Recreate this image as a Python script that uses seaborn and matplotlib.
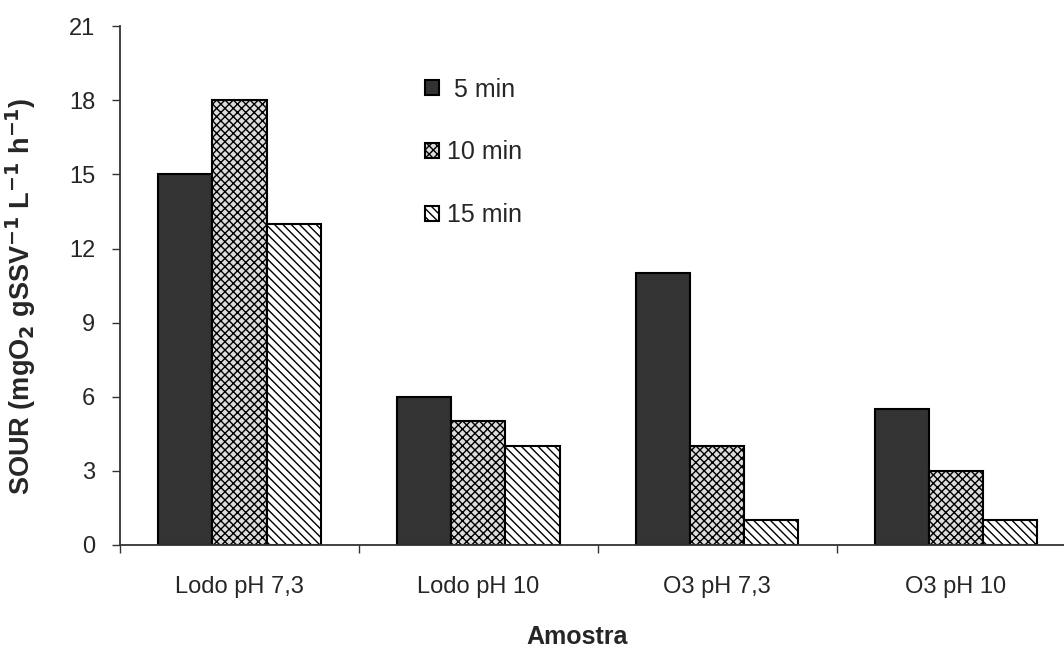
import numpy as np
import matplotlib
matplotlib.use('Agg')
import matplotlib.pyplot as plt
import seaborn as sns
import pandas as pd

# dados do gráfico
amostras = ['Lodo pH 7,3', 'Lodo pH 10', 'O3 pH 7,3', 'O3 pH 10']
tempos = [' 5 min', '10 min', '15 min']
sour_5 = [15, 6, 11, 5.5]
sour_10 = [18, 5, 4, 3]
sour_15 = [13, 4, 1, 1]

df = pd.DataFrame({
    'Amostra': amostras * 3,
    'Tempo': [tempos[0]] * 4 + [tempos[1]] * 4 + [tempos[2]] * 4,
    'SOUR': sour_5 + sour_10 + sour_15,
})

sns.set_style('white')
plt.rcParams['font.family'] = ['Liberation Sans', 'DejaVu Sans']
plt.rcParams['hatch.linewidth'] = 1.0
plt.rcParams['mathtext.default'] = 'bf'

fig = plt.figure(figsize=(10.64, 6.55), dpi=100)
ax = fig.add_axes([0.1128, 0.168, 0.898, 0.792])

sns.barplot(data=df, x='Amostra', y='SOUR', hue='Tempo', order=amostras,
            hue_order=tempos, width=0.68, ax=ax, legend=False)

faces = ['#333333', '#dcdcdc', 'white']
hatches = [None, 'xxxx', '\\\\\\\\']
for cont, fc, h in zip(ax.containers, faces, hatches):
    for p in cont:
        p.set_facecolor(fc)
        p.set_edgecolor('black')
        p.set_linewidth(1.5)
        if h:
            p.set_hatch(h)

ax.set_xlim(-0.5, 3.5)
ax.set_ylim(0, 21)
ax.set_yticks(np.arange(0, 22, 3))
ax.set_xticks(np.arange(-0.5, 3.6, 1), minor=True)
ax.tick_params(axis='x', which='major', length=0, labelsize=17, pad=22)
ax.tick_params(axis='x', which='minor', length=6, width=1, direction='out', color='#333333')
ax.tick_params(axis='y', length=6, width=1, direction='out', labelsize=17, color='#333333', pad=12)
ax.xaxis.set_tick_params(which='minor', bottom=True)
ax.yaxis.set_tick_params(left=True)

for s in ['top', 'right']:
    ax.spines[s].set_visible(False)
for s in ['left', 'bottom']:
    ax.spines[s].set_color('#333333')
    ax.spines[s].set_linewidth(1.3)

ax.set_xlabel('Amostra', fontsize=18, fontweight='bold')
ax.set_ylabel(r'SOUR (mgO$_2$ gSSV$^{-1}$ L$^{-1}$ h$^{-1}$)',
              fontsize=19.5, fontweight='bold')
ax.xaxis.set_label_coords(0.478, -0.155)
ax.yaxis.set_label_coords(-0.086, 0.48)

handles = [cont.patches[0] for cont in ax.containers]
leg = ax.legend(handles, tempos, loc='upper left', bbox_to_anchor=(0.306, 0.925),
                frameon=False, fontsize=18, handlelength=0.55, handleheight=0.55,
                labelspacing=1.55, handletextpad=0.35, borderpad=0)

plt.savefig('out.png', dpi=100)
